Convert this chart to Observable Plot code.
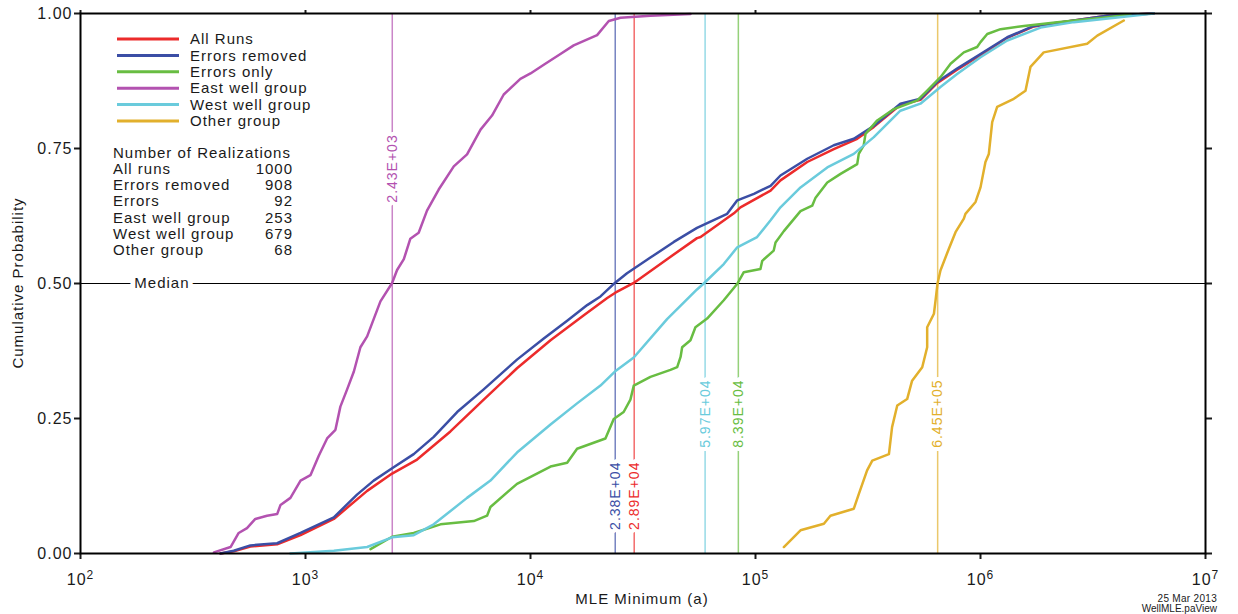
<!DOCTYPE html>
<html><head><meta charset="utf-8">
<script src="https://cdn.jsdelivr.net/npm/d3@7"></script>
<script src="https://cdn.jsdelivr.net/npm/@observablehq/plot@0.6"></script>
<style>
html,body{margin:0;padding:0;background:#fff;}
</style></head><body><div id="chart"></div>
<script>
// ---------- DATA (x values stored as log10 of MLE minimum, y = cumulative probability) ----------
const seriesNames = ["All Runs", "Errors removed", "Errors only", "East well group", "West well group", "Other group"];
const seriesColors = ["#ec2b2b", "#3b4ea5", "#68bd42", "#b352b0", "#6acbdc", "#e2b02c"];

const allRunsLogX = [2.622,2.681,2.755,2.874,2.978,3.126,3.274,3.385,3.496,3.644,3.792,3.940,4.089,4.237,4.341,4.377,4.459,4.607,4.740,4.756,4.904,4.933,5.067,5.111,5.230,5.348,5.452,5.526,5.644,5.733,5.807,5.896,6.000,6.119,6.237,6.415,6.563,6.770];
const allRunsP    = [0,0.004,0.013,0.017,0.034,0.064,0.116,0.148,0.174,0.226,0.285,0.343,0.395,0.441,0.473,0.483,0.501,0.545,0.584,0.586,0.630,0.641,0.672,0.691,0.725,0.749,0.768,0.790,0.831,0.840,0.871,0.896,0.923,0.955,0.976,0.987,0.996,1.0];

const errRemovedLogX = [2.622,2.681,2.755,2.874,2.978,3.126,3.229,3.303,3.385,3.481,3.570,3.674,3.792,3.940,4.059,4.163,4.252,4.311,4.375,4.429,4.533,4.637,4.740,4.874,4.919,4.993,5.067,5.111,5.230,5.348,5.437,5.526,5.644,5.733,5.807,5.896,6.000,6.119,6.237,6.415,6.563,6.770];
const errRemovedP    = [0,0.005,0.015,0.019,0.038,0.067,0.109,0.135,0.158,0.184,0.216,0.262,0.304,0.359,0.398,0.431,0.460,0.476,0.501,0.519,0.548,0.577,0.603,0.629,0.654,0.666,0.681,0.700,0.731,0.756,0.768,0.792,0.833,0.842,0.873,0.898,0.925,0.956,0.977,0.987,0.996,1.0];

const errOnlyLogX = [3.289,3.385,3.481,3.600,3.748,3.807,3.822,3.940,4.089,4.163,4.207,4.333,4.370,4.414,4.444,4.459,4.533,4.622,4.652,4.667,4.674,4.711,4.733,4.785,4.859,4.920,4.948,5.022,5.030,5.081,5.089,5.126,5.200,5.252,5.267,5.319,5.378,5.452,5.459,5.481,5.489,5.541,5.615,5.719,5.763,5.822,5.867,5.926,5.985,6.000,6.030,6.089,6.193,6.341,6.563,6.667];
const errOnlyP    = [0.008,0.031,0.038,0.054,0.060,0.070,0.086,0.129,0.161,0.168,0.194,0.213,0.249,0.262,0.285,0.311,0.327,0.340,0.345,0.364,0.382,0.395,0.419,0.435,0.469,0.500,0.521,0.527,0.542,0.561,0.576,0.597,0.634,0.644,0.659,0.687,0.703,0.721,0.740,0.756,0.777,0.802,0.823,0.839,0.857,0.882,0.907,0.928,0.938,0.947,0.962,0.971,0.977,0.984,0.993,0.998];

const eastLogX = [2.593,2.667,2.703,2.740,2.777,2.829,2.874,2.889,2.933,2.978,3.022,3.059,3.096,3.133,3.155,3.185,3.215,3.244,3.274,3.303,3.333,3.385,3.407,3.437,3.466,3.503,3.540,3.592,3.659,3.718,3.778,3.829,3.881,3.955,4.000,4.059,4.133,4.192,4.296,4.348,4.400,4.533,4.711];
const eastP    = [0.002,0.012,0.038,0.047,0.064,0.070,0.073,0.090,0.103,0.135,0.145,0.181,0.213,0.229,0.272,0.304,0.337,0.382,0.402,0.434,0.467,0.501,0.525,0.545,0.583,0.594,0.635,0.674,0.717,0.739,0.785,0.811,0.850,0.879,0.889,0.905,0.925,0.941,0.960,0.986,0.992,0.996,0.999];

const westLogX = [2.933,3.126,3.274,3.385,3.481,3.570,3.718,3.822,3.940,4.089,4.207,4.311,4.375,4.459,4.607,4.740,4.770,4.859,4.919,5.007,5.067,5.111,5.200,5.319,5.437,5.526,5.644,5.733,5.822,5.896,6.000,6.119,6.267,6.415,6.770];
const westP    = [0,0.005,0.012,0.030,0.034,0.054,0.103,0.135,0.187,0.239,0.278,0.311,0.337,0.363,0.434,0.489,0.500,0.536,0.567,0.586,0.617,0.641,0.678,0.715,0.740,0.771,0.820,0.833,0.864,0.888,0.919,0.950,0.974,0.984,1.0];

const otherLogX = [5.126,5.200,5.304,5.333,5.437,5.459,5.496,5.519,5.593,5.607,5.630,5.674,5.696,5.741,5.763,5.763,5.793,5.800,5.809,5.822,5.859,5.889,5.926,5.933,5.978,6.000,6.022,6.037,6.052,6.074,6.148,6.200,6.222,6.281,6.474,6.519,6.637];
const otherP    = [0.012,0.043,0.055,0.070,0.083,0.110,0.154,0.172,0.184,0.234,0.274,0.286,0.320,0.345,0.382,0.419,0.444,0.468,0.500,0.524,0.564,0.595,0.620,0.629,0.651,0.678,0.725,0.740,0.799,0.827,0.842,0.857,0.901,0.928,0.944,0.959,0.987];

// medians (order: East, Errors removed, All runs, West, Errors only, Other)
const medianValues = [2430, 23800, 28900, 59700, 83900, 645000];
const medianLabels = ["2.43E+03", "2.38E+04", "2.89E+04", "5.97E+04", "8.39E+04", "6.45E+05"];
const medianSeries = [3, 1, 0, 4, 2, 5];

const tableTitle = "Number of Realizations";
const tableLabels = ["All runs", "Errors removed", "Errors", "East well group", "West well group", "Other group"];
const tableCounts = [1000, 908, 92, 253, 679, 68];

const xTicks = [1e2, 1e3, 1e4, 1e5, 1e6, 1e7];
const yTicks = [0, 0.25, 0.5, 0.75, 1];

// ---------- BUILD ----------
const seriesLogX = [allRunsLogX, errRemovedLogX, errOnlyLogX, eastLogX, westLogX, otherLogX];
const seriesP = [allRunsP, errRemovedP, errOnlyP, eastP, westP, otherP];
const seriesRows = seriesLogX.map((lx, i) => lx.map((v, j) => ({x: Math.pow(10, v), y: seriesP[i][j]})));

const labelYPos = [0.713, 0.107, 0.107, 0.259, 0.259, 0.259];
const medianRows = medianValues.map((v, i) => ({x: v, label: medianLabels[i], color: seriesColors[medianSeries[i]], ly: labelYPos[i]}));

const drawOrder = [0, 1, 2, 3, 4, 5];

const chart = Plot.plot({
  width: 1238, height: 614,
  marginLeft: 80, marginRight: 33, marginTop: 13, marginBottom: 61,
  style: {fontFamily: "'Liberation Sans', Arial, sans-serif", fontSize: "15px", letterSpacing: "1px", color: "#1a1a1a", background: "#fff"},
  x: {type: "log", domain: [1e2, 1e7]},
  y: {domain: [0, 1]},
  marks: [
    Plot.ruleY([0.5], {stroke: "#000", strokeWidth: 1}),
    Plot.text([{x: 230, y: 0.5, t: "Median"}], {x: "x", y: "y", text: "t", fill: "#1a1a1a", stroke: "white", strokeWidth: 10, fontSize: 15}),
    Plot.ruleX(medianRows, {x: "x", y1: 0, y2: 1, stroke: "color", strokeWidth: 1.5, strokeOpacity: 0.7}),
    Plot.text(medianRows, {x: "x", y: "ly", text: "label", rotate: -90, fill: "color", stroke: "white", strokeWidth: 8, fontSize: 14}),
    ...drawOrder.map(i => Plot.line(seriesRows[i], {x: "x", y: "y", stroke: seriesColors[i], strokeWidth: 2.5, strokeLinejoin: "round"})),
    Plot.axisY({ticks: yTicks, tickFormat: d3.format(".2f"), tickSize: 6, tickPadding: 2, strokeWidth: 2, label: null, fontSize: 16}),
    Plot.axisY({anchor: "right", ticks: yTicks, tickFormat: () => "", tickSize: 6, strokeWidth: 2, label: null}),
    Plot.axisX({ticks: xTicks, tickFormat: d => String(Math.round(Math.log10(d))), tickSize: 6, tickPadding: 14, strokeWidth: 2, label: null, fontSize: 16}),
    Plot.axisX({anchor: "top", ticks: xTicks, tickFormat: () => "", tickSize: 4, strokeWidth: 2, label: null}),
    Plot.frame({stroke: "#000", strokeWidth: 2})
  ]
});

const svg = d3.select(chart);
// superscript exponents on x tick labels
svg.selectAll('g[aria-label="x-axis tick label"] text').each(function() {
  const e = this.textContent;
  if (!e) return;
  const s = d3.select(this);
  s.text(null);
  s.append("tspan").text("10");
  s.append("tspan").attr("dy", "-0.45em").attr("font-size", "12px").text(e);
});

// legend
const lg = svg.append("g").attr("fill", "#1a1a1a").attr("text-anchor", "start");
seriesNames.forEach((n, i) => {
  const y = 39 + i * 16.4;
  lg.append("line").attr("x1", 117).attr("x2", 179).attr("y1", y).attr("y2", y)
    .attr("stroke", seriesColors[i]).attr("stroke-width", 3);
  lg.append("text").attr("x", 190).attr("y", y).attr("dy", "0.35em").attr("text-anchor", "start").text(n);
});
lg.append("text").attr("x", 113).attr("y", 153).attr("dy", "0.35em").attr("text-anchor", "start").text(tableTitle);
tableLabels.forEach((t, i) => {
  const y = 169 + i * 16.1;
  lg.append("text").attr("x", 113).attr("y", y).attr("dy", "0.35em").attr("text-anchor", "start").text(t);
  lg.append("text").attr("x", 293).attr("y", y).attr("dy", "0.35em").attr("text-anchor", "end").text(tableCounts[i]);
});

// axis titles
svg.append("text").attr("transform", "translate(18,283) rotate(-90)").attr("text-anchor", "middle")
  .attr("dy", "0.35em").attr("fill", "#1a1a1a").text("Cumulative Probability");
svg.append("text").attr("x", 642).attr("y", 599).attr("text-anchor", "middle")
  .attr("dy", "0.35em").attr("fill", "#1a1a1a").text("MLE Minimum (a)");
svg.append("text").attr("x", 1217).attr("y", 602).attr("text-anchor", "end")
  .attr("font-size", "10px").attr("letter-spacing", "0.3px").attr("fill", "#1a1a1a").text("25 Mar 2013");
svg.append("text").attr("x", 1217).attr("y", 612).attr("text-anchor", "end")
  .attr("font-size", "10px").attr("letter-spacing", "0px").attr("fill", "#1a1a1a").text("WellMLE.paView");

document.getElementById("chart").appendChild(chart);
</script>
</body></html>
